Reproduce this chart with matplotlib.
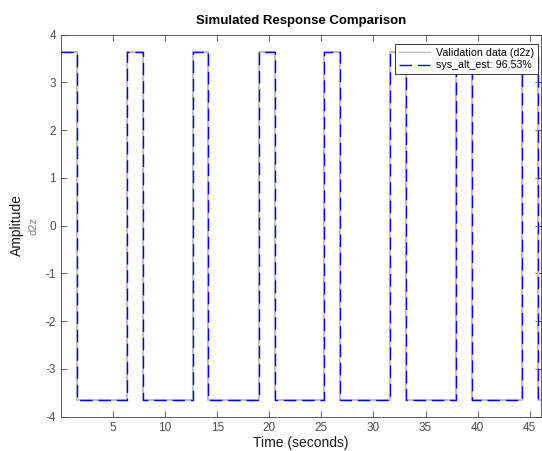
import matplotlib
matplotlib.use("Agg")
import matplotlib.pyplot as plt

plt.rcParams['font.family'] = ['Liberation Sans', 'DejaVu Sans']
plt.rcParams['axes.unicode_minus'] = False

# switching times (s) of the square wave and the level after each switch
switch_times = [0.0, 1.54, 6.30, 7.88, 12.64, 14.15, 18.98, 20.50, 25.25,
                26.83, 31.56, 33.17, 37.90, 39.50, 44.26, 45.82, 46.10]
levels = [3.64, -3.64, 3.64, -3.64, 3.64, -3.64, 3.64, -3.64, 3.64,
          -3.64, 3.64, -3.64, 3.64, -3.64, 3.64, -3.64, -3.64]
est_levels = levels
fit_pct = 96.53

xticks = [5, 10, 15, 20, 25, 30, 35, 40, 45]
yticks = [-4, -3, -2, -1, 0, 1, 2, 3, 4]

fig = plt.figure(figsize=(5.42, 4.51), dpi=100)
ax = fig.add_axes([0.1125, 0.076, 0.886, 0.847])

ax.step(switch_times, levels, where='post', color='#c0c0c0', lw=1.5,
        label='Validation data (d2z)')
ax.step(switch_times, est_levels, where='post', color='#0000ff', lw=1.0,
        dashes=(9, 4.2), label='sys_alt_est: %.2f%%' % fit_pct)

ax.set_xlim(0, 46.1)
ax.set_ylim(-4, 4)
ax.set_xticks(xticks)
ax.set_yticks(yticks)
ax.tick_params(direction='in', top=True, right=True, length=4, width=0.6,
               colors='#404040', labelsize=8.5, labelcolor='#4d4d4d')
for s in ax.spines.values():
    s.set_color('#404040')
    s.set_linewidth(0.6)

ax.set_title('Simulated Response Comparison', fontsize=9.5, fontweight='bold', pad=8)
ax.set_xlabel('Time (seconds)', fontsize=10, color='#1a1a1a', labelpad=2)
fig.text(0.031, 0.5, 'Amplitude', rotation=90, fontsize=10, color='#1a1a1a',
         ha='center', va='center')
fig.text(0.061, 0.5, 'd2z', rotation=90, fontsize=8, color='#808080',
         ha='center', va='center')

leg = ax.legend(loc='upper right', fontsize=7.7, frameon=True, fancybox=False,
                framealpha=1.0, borderpad=0.35, handlelength=2.9,
                labelspacing=0.25, borderaxespad=0.0, handletextpad=0.6,
                bbox_to_anchor=(0.9937, 0.976))
leg.get_frame().set_edgecolor('#1a1a1a')
leg.get_frame().set_linewidth(0.6)
leg.get_lines()[0].set_linewidth(1.0)

fig.savefig('out.png', dpi=100)
